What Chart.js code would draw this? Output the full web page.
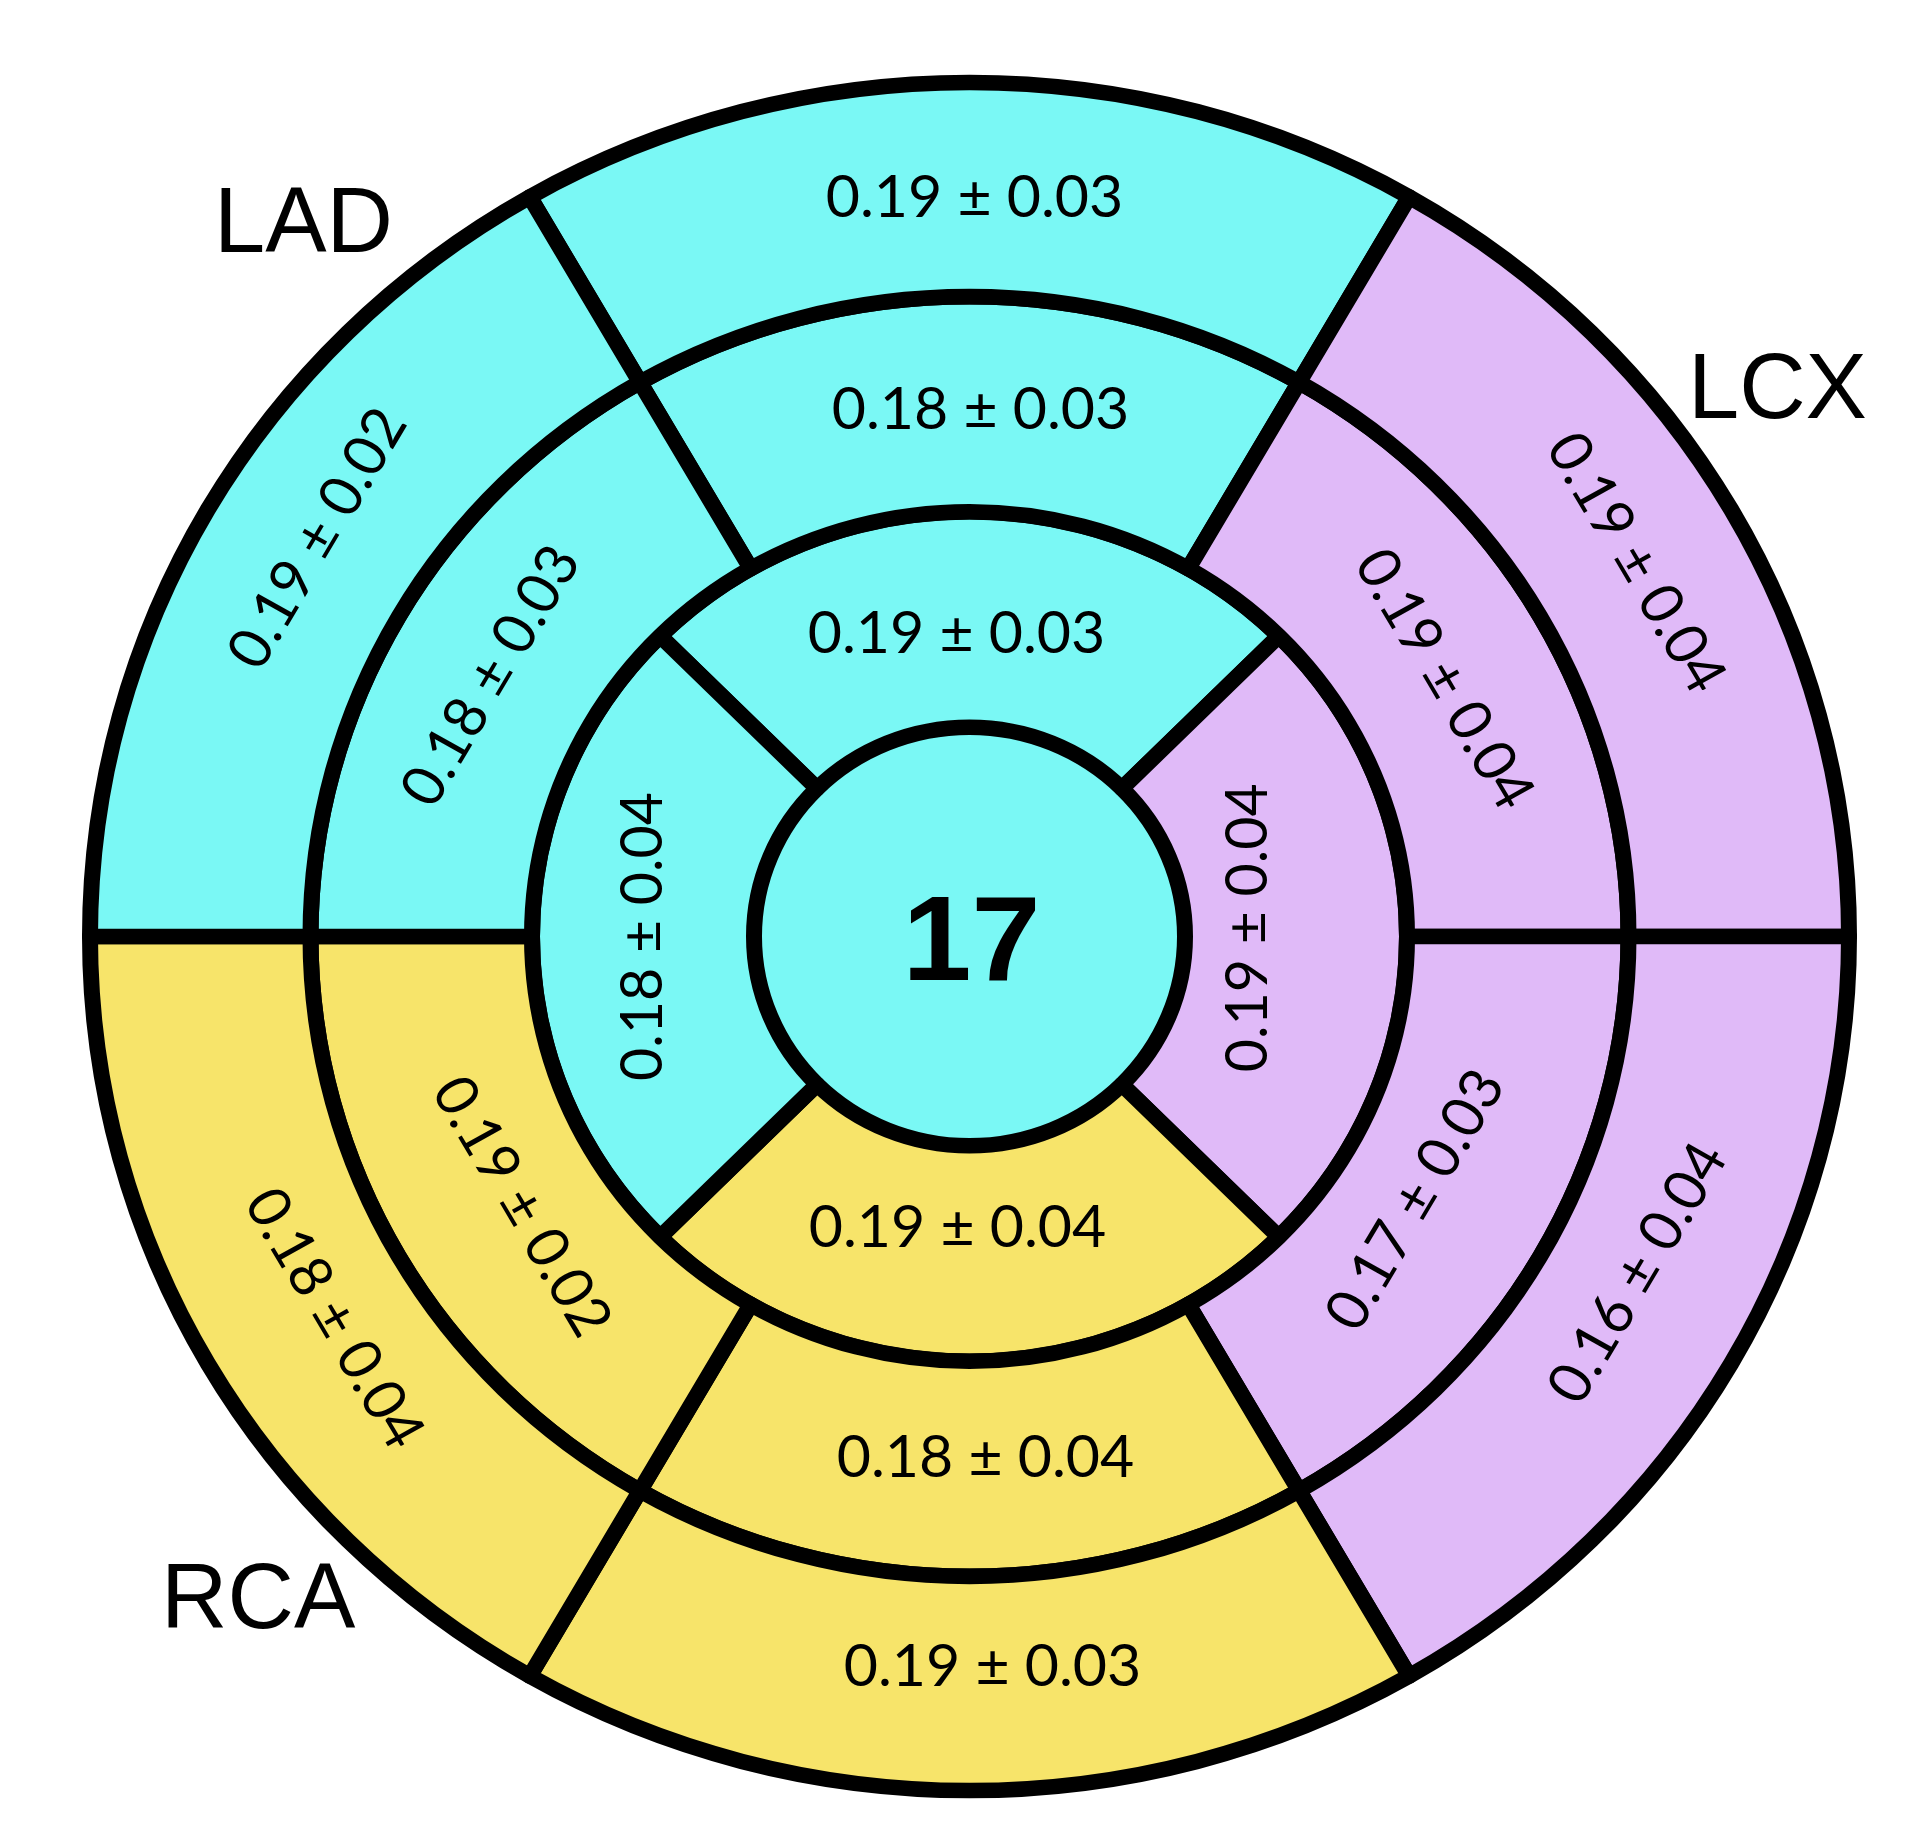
<!DOCTYPE html>
<html><head><meta charset="utf-8">
<script src="https://cdn.jsdelivr.net/npm/chart.js@4"></script>
<style>html,body{margin:0;padding:0;background:#fff;}canvas{display:block;}</style>
</head><body>
<canvas id="c" width="1916" height="1847"></canvas>
<script>
// ---- data (17-segment bullseye, clockwise from top) ----
const basalMean = [0.19, 0.19, 0.16, 0.19, 0.18, 0.19];
const basalSD   = [0.03, 0.04, 0.04, 0.03, 0.04, 0.02];
const midMean   = [0.18, 0.19, 0.17, 0.18, 0.19, 0.18];
const midSD     = [0.03, 0.04, 0.03, 0.04, 0.02, 0.03];
const apicalMean = [0.19, 0.19, 0.19, 0.18];
const apicalSD   = [0.03, 0.04, 0.04, 0.04];
const apexLabel  = ['17'];
const basalTerritory  = ['LAD', 'LCX', 'LCX', 'RCA', 'RCA', 'LAD'];
const midTerritory    = ['LAD', 'LCX', 'LCX', 'RCA', 'RCA', 'LAD'];
const apicalTerritory = ['LAD', 'LCX', 'RCA', 'LAD'];
const apexTerritory   = ['LAD'];
const territoryNames  = ['LAD', 'LCX', 'RCA'];

// ---- styles / layout (label nudges in px: radial, along-text) ----
const territoryColor = { LAD: '#7AF8F5', LCX: '#E0BAF8', RCA: '#F7E46A' };
const basalShift  = [-9, 0, -17, -16, -22, 0];
const midShift    = [-7, -5, -26, -11, -21, 0];
const apicalShift = [-16, -48, -26, 0];
const basalSlide  = [5, 0, 34, 23, 23, 29];
const midSlide    = [11, 8, -12, 16, 17, -7];
const apicalSlide = [-13, 9, -12, 0];
const fmt = (m, s) => m.toFixed(2) + ' \u00B1 ' + s.toFixed(2);
const basalLabels  = basalMean.map((m, i) => fmt(m, basalSD[i]));
const midLabels    = midMean.map((m, i) => fmt(m, midSD[i]));
const apicalLabels = apicalMean.map((m, i) => fmt(m, apicalSD[i]));
const ones = a => a.map(() => 1);
const SQUASH = 0.971;

const ring = (labels, terr, rotation, weight, font, shift, slide, bw) => ({
  data: ones(terr), segLabels: labels, rotation, weight, segFont: font,
  segShift: shift, segSlide: slide,
  backgroundColor: terr.map(t => territoryColor[t]),
  borderColor: '#000', borderWidth: bw, borderAlign: 'center',
  hoverOffset: 0, offset: 0, borderJoinStyle: 'round'
});

const valueFont = '59px Lato';
const bullseyePlugin = {
  id: 'bullseye',
  beforeDatasetsDraw(chart) {
    const ctx = chart.ctx, a = chart.chartArea;
    const cx = (a.left + a.right) / 2, cy = (a.top + a.bottom) / 2;
    ctx.save();
    ctx.translate(cx, cy); ctx.scale(1, SQUASH); ctx.translate(-cx, -cy);
  },
  afterDatasetsDraw(chart) {
    const ctx = chart.ctx;
    chart.data.datasets.forEach((ds, di) => {
      const meta = chart.getDatasetMeta(di);
      meta.data.forEach((arc, i) => {
        const p = arc.getProps(['x', 'y', 'startAngle', 'endAngle', 'innerRadius', 'outerRadius'], true);
        const ang = (p.startAngle + p.endAngle) / 2;
        const center = ds.data.length === 1;
        const r = center ? 0 : (p.innerRadius + p.outerRadius) / 2 + (ds.segShift[i] || 0);
        let rot = ang + Math.PI / 2;
        while (rot >= Math.PI / 2 - 1e-6) rot -= Math.PI;
        while (rot < -Math.PI / 2 - 1e-6) rot += Math.PI;
        ctx.save();
        ctx.translate(p.x + Math.cos(ang) * r, p.y + Math.sin(ang) * r);
        if (!center) ctx.rotate(rot);
        ctx.fillStyle = '#000';
        ctx.textAlign = 'center';
        ctx.textBaseline = center ? 'alphabetic' : 'middle';
        ctx.font = ds.segFont;
        ctx.letterSpacing = '0px';
        ctx.fillText(ds.segLabels[i], center ? 2 : (ds.segSlide[i] || 0), center ? 45 : 0);
        ctx.restore();
      });
    });
    ctx.restore();
  },
  afterDraw(chart) {
    const ctx = chart.ctx;
    const pos = { LAD: [214, 252], LCX: [1688, 418], RCA: [161, 1628] };
    ctx.save();
    ctx.fillStyle = '#000';
    ctx.font = '92px "Liberation Sans", Arial, sans-serif';
    ctx.textAlign = 'left';
    ctx.textBaseline = 'alphabetic';
    territoryNames.forEach(n => ctx.fillText(n, pos[n][0], pos[n][1]));
    ctx.restore();
  }
};

new Chart(document.getElementById('c'), {
  type: 'doughnut',
  data: {
    datasets: [
      ring(basalLabels, basalTerritory, -30, 220.5, valueFont, basalShift, basalSlide, 16),
      ring(midLabels, midTerritory, -30, 221.5, valueFont, midShift, midSlide, 16),
      ring(apicalLabels, apicalTerritory, -45, 222, valueFont, apicalShift, apicalSlide, 16),
      ring(apexLabel, apexTerritory, 0, 215.5, 'bold 124px "Liberation Sans", Arial, sans-serif', [0], [0], 0)
    ]
  },
  options: {
    responsive: false,
    animation: false,
    events: [],
    cutout: 0,
    layout: { padding: { left: 82, top: 49, right: 59, bottom: 23 } },
    plugins: { legend: { display: false }, tooltip: { enabled: false } }
  },
  plugins: [bullseyePlugin]
});
</script>
</body></html>
